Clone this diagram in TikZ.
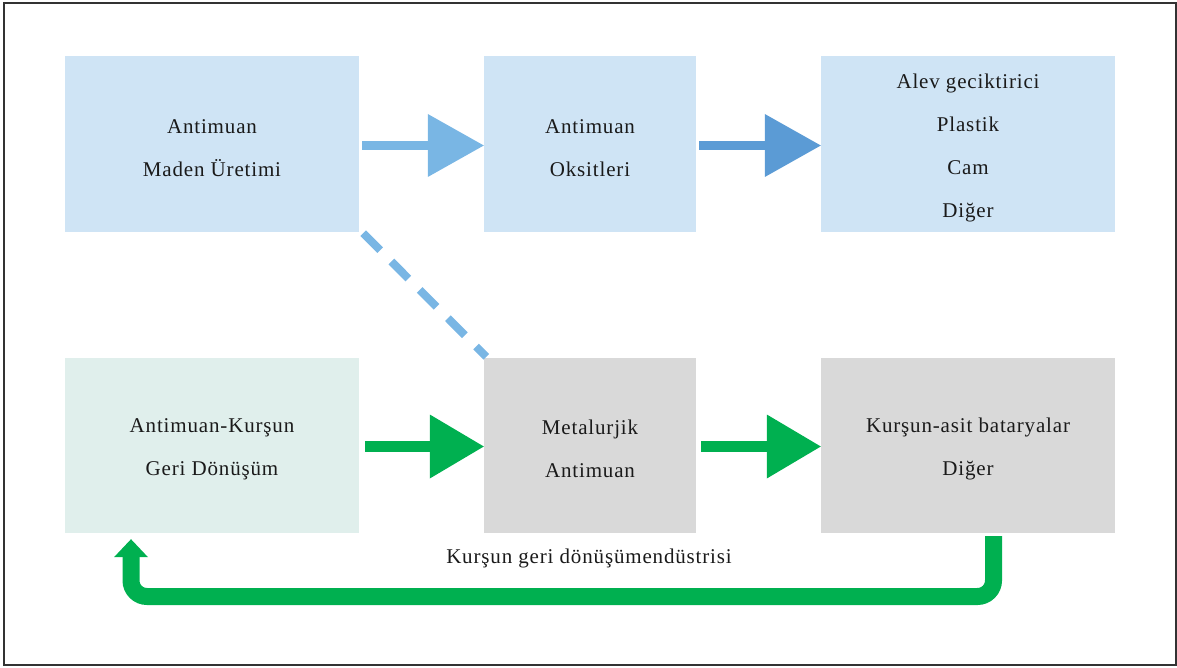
\documentclass[tikz,border=0pt]{standalone}
\usepackage{fontspec}
\setmainfont{Liberation Serif}[LetterSpace=4]
\usetikzlibrary{arrows.meta}
\definecolor{boxblue}{HTML}{CFE4F5}
\definecolor{boxgreen}{HTML}{E0EFEC}
\definecolor{boxgray}{HTML}{D9D9D9}
\definecolor{arrlight}{HTML}{79B6E4}
\definecolor{arrdark}{HTML}{5B9BD5}
\definecolor{arrgreen}{HTML}{00B050}
\definecolor{txt}{HTML}{1A1A1A}
\newcommand{\topstrut}{\rule{0pt}{22pt}}
\tikzset{
  box/.style={draw=none, minimum height=176pt, inner sep=0pt, align=center,
    text=txt, font=\fontsize{21}{43}\selectfont},
  widebox/.style={box, minimum width=294pt},
  narrowbox/.style={box, minimum width=212pt},
  blockarrow/.style={line width=9pt, -{Triangle[length=56pt,width=63pt,line width=0pt]}},
  greenarrow/.style={line width=11pt, arrgreen, -{Triangle[length=54pt,width=64pt,line width=0pt]}},
}
\begin{document}
\begin{tikzpicture}[x=1pt,y=-1pt]
\useasboundingbox (0,0) rectangle (1177,668);
\draw[line width=1.3pt, color=black!80] (4,3) rectangle (1176,665);

\node[widebox, fill=boxblue] (A) at (212,144) {\topstrut Antimuan\\Maden Üretimi};
\node[narrowbox, fill=boxblue] (B) at (590,144) {\topstrut Antimuan\\Oksitleri};
\node[widebox, fill=boxblue] (C) at (968,144) {\topstrut Alev geciktirici\\Plastik\\Cam\\Diğer};
\node[widebox, fill=boxgreen, minimum height=175pt] (D) at (212,445.5) {\topstrut Antimuan-Kurşun\\Geri Dönüşüm};
\node[narrowbox, fill=boxgray, minimum height=175pt] (E) at (590,445.5) {\topstrut Metalurjik\\Antimuan};
\node[widebox, fill=boxgray, minimum height=175pt] (F) at (968,445.5) {\topstrut Kurşun-asit bataryalar\\Diğer};

\draw[blockarrow, arrlight] ([xshift=3pt,yshift=-1.5pt]A.east) -- ([yshift=-1.5pt]B.west);
\draw[blockarrow, arrdark] ([xshift=3pt,yshift=-1.5pt]B.east) -- ([yshift=-1.5pt]C.west);
\draw[line width=8pt, arrlight, dash pattern=on 24pt off 16pt]
  ([xshift=4pt,yshift=-1pt]A.south east) -- ([xshift=2.5pt,yshift=1pt]E.north west);

\draw[greenarrow] ([xshift=6pt,yshift=-1pt]D.east) -- ([yshift=-1pt]E.west);
\draw[greenarrow] ([xshift=5pt,yshift=-1pt]E.east) -- ([yshift=-1pt]F.west);

\coordinate (loopS) at ([xshift=25.5pt,yshift=-3pt]F.south);
\coordinate (loopR) at (993.5,596.5);
\coordinate (loopL) at (131,596.5);
\coordinate (loopE) at ([xshift=-81pt,yshift=-6pt]D.south);
\draw[line width=17pt, arrgreen, rounded corners=16pt,
  -{Triangle[length=18pt,width=34pt,line width=0pt]}]
  (loopS) -- (loopR) -- (loopL) -- (loopE);

\node[text=txt, font=\fontsize{21}{24}\selectfont, anchor=base] (lbl) at (589,563)
  {Kurşun geri dönüşümendüstrisi};
\end{tikzpicture}
\end{document}
